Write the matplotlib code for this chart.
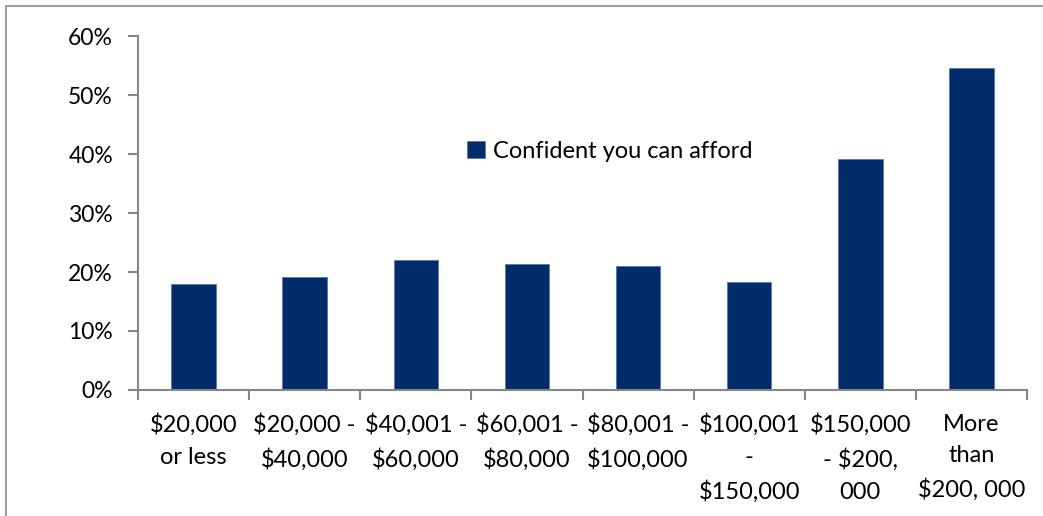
import numpy as np
import matplotlib.pyplot as plt
from matplotlib.lines import Line2D

plt.rcParams['font.family'] = ['Lato', 'DejaVu Sans']

categories = ['$20,000\nor less', '$20,000 -\n$40,000', '$40,001 -\n$60,000',
              '$60,001 -\n$80,000', '$80,001 -\n$100,000', '$100,001\n-\n$150,000',
              '$150,000\n- $200,\n000', 'More\nthan\n$200, 000']
confident = [17.9, 19.1, 22.1, 21.3, 21.0, 18.3, 39.1, 54.5]

bar_color = '#002D6A'
axis_color = '#868686'

fig = plt.figure(figsize=(10.43, 5.16), dpi=100)
ax = fig.add_axes([0.1323, 0.2442, 0.8524, 0.6860])

x = np.arange(len(categories))
ax.bar(x, confident, width=0.4, color=bar_color, edgecolor='#5A7AA8',
       linewidth=0.6, label='Confident you can afford', zorder=2)

ax.set_xlim(-0.5, len(categories) - 0.5)
ax.set_ylim(0, 60)
ax.set_yticks(range(0, 61, 10))
ax.set_yticklabels([f'{v}%' for v in range(0, 61, 10)], fontsize=16.5)

# 类别标签放在中间，刻度线放在类别边界
ax.set_xticks(x)
ax.set_xticklabels(categories, fontsize=17, linespacing=1.64, va='top')
ax.tick_params(axis='x', length=0, pad=17)
ax.set_xticks(np.arange(-0.5, len(categories)), minor=True)
ax.tick_params(axis='x', which='minor', length=7, color=axis_color, width=1.5)
ax.tick_params(axis='y', length=7, color=axis_color, width=1.5, pad=11)

for s in ['top', 'right']:
    ax.spines[s].set_visible(False)
for s in ['left', 'bottom']:
    ax.spines[s].set_color(axis_color)
    ax.spines[s].set_linewidth(1.5)

ax.legend(loc='upper left', bbox_to_anchor=(0.36, 0.73), frameon=False,
          fontsize=17, handlelength=0.75, handleheight=0.75, handletextpad=0.35,
          borderaxespad=0)

# 外框：只看得到上边和左边
fig.add_artist(Line2D([0.0058, 1.0], [0.988, 0.988], color='#A0A0A0', lw=1.5))
fig.add_artist(Line2D([0.0058, 0.0058], [0.0, 0.988], color='#A0A0A0', lw=1.5))

fig.savefig('out.png', dpi=100)
